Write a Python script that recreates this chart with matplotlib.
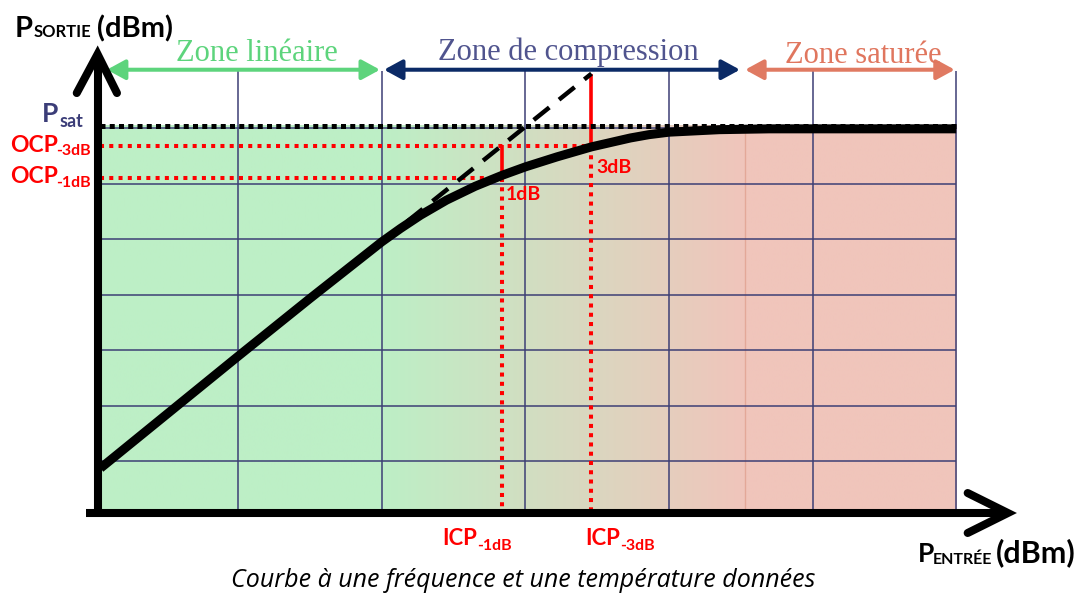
import numpy as np
import matplotlib as mpl
import matplotlib.pyplot as plt
from matplotlib.colors import LinearSegmentedColormap
from matplotlib.transforms import Affine2D

mpl.rcParams.update({
    "font.family": ["Lato", "DejaVu Sans"],
})

W, H = 1086, 594

# Transfer curve (grid units: 6 columns x 7 rows)
p_in = [0.04, 0.52, 1.0, 1.5, 2.0, 2.13, 2.27, 2.45, 2.65, 2.84, 3.0, 3.22,
        3.46, 3.73, 3.86, 4.0, 4.35, 4.7, 5.25, 6.0]
p_out = [0.87, 1.88, 2.89, 3.93, 4.95, 5.19, 5.43, 5.70, 5.95, 6.15, 6.30, 6.48,
         6.66, 6.82, 6.88, 6.925, 6.97, 6.985, 6.985, 6.985]

# ideal linear gain (dashed extension)
lin_in = [2.0, 3.46]
lin_out = [4.95, 7.98]

p_sat = 7.03
icp_1db, ocp_1db = 2.84, 6.10
icp_3db, ocp_3db = 3.46, 6.67

zones = ["Zone linéaire", "Zone de compression", "Zone saturée"]
zone_start = [0.085, 2.015, 4.53]
zone_end = [1.987, 4.494, 5.99]
zone_label_x = [1.13, 3.30, 5.35]
zone_label_y = [8.20, 8.23, 8.18]
zone_text_col = ["#5dd47c", "#50548e", "#e0765e"]
zone_arrow_col = ["#5dd47c", "#0b2a66", "#e07a62"]

GREEN = "#bdefc6"
PINK = "#f0c5bb"
GRID = "#3d3f75"
RED = "#ff0000"
FILL_TOP = 7.06

fig = plt.figure(figsize=(W / 100, H / 100), dpi=100)
ax = fig.add_axes([94.7 / W, 77.5 / H, 861.5 / W, 55.5 * FILL_TOP / H])
ax.axis("off")

# background gradient green -> pink
cmap = LinearSegmentedColormap.from_list(
    "zones", [(0, GREEN), (2.0 / 6, GREEN), (4.52 / 6, PINK), (1, PINK)])
ax.imshow(np.linspace(0, 1, 600)[None, :], extent=(0, 6, 0, FILL_TOP),
          aspect="auto", cmap=cmap, zorder=0, interpolation="bilinear")
ax.vlines(4.53, 0, FILL_TOP, color="#e3a898", lw=1, zorder=1)

# grid
ax.vlines(range(1, 7), 0, 8.03, color=GRID, lw=1.1, zorder=2, clip_on=False)
ax.hlines(range(1, 8), 0, 6, color=GRID, lw=1.1, zorder=2)

# Psat dotted line
ax.plot([0.04, 6.0], [p_sat, p_sat], color="black", lw=3.6,
        dashes=(1, 0.85), dash_capstyle="butt", zorder=5, clip_on=False)

# OCP / ICP red dotted guides
for icp, ocp in [(icp_1db, ocp_1db), (icp_3db, ocp_3db)]:
    ax.plot([0.04, icp], [ocp, ocp], color=RED, lw=2.9, dashes=(1, 1.3),
            zorder=4)
    ax.plot([icp, icp], [ocp, 0.06], color=RED, lw=2.9, dashes=(1, 1.3),
            zorder=4)
    top = np.interp(icp, lin_in, lin_out)
    ax.plot([icp, icp], [top, ocp], color=RED, lw=2.6, zorder=4,
            solid_capstyle="butt", clip_on=False)

# dashed linear extension
ax.plot(lin_in, lin_out, color="black", lw=3.2, dashes=(4.5, 2.8), zorder=6,
        clip_on=False)

# transfer curve
ax.plot(p_in, p_out, color="black", lw=6.5, solid_joinstyle="round",
        solid_capstyle="butt", zorder=7, clip_on=False)

ax.set_xlim(0, 6)
ax.set_ylim(0, FILL_TOP)

# axes arrows
AX_LW = 5.8
ax.plot([0.02, 0.02], [-0.01, 8.3], color="black", lw=AX_LW,
        solid_capstyle="butt", clip_on=False, zorder=8)
ax.plot([-0.125, 0.02, 0.155], [7.63, 8.33, 7.63], color="black", lw=AX_LW,
        solid_capstyle="round", solid_joinstyle="miter", clip_on=False, zorder=8)
ax.plot([-0.06, 6.34], [0.063, 0.063], color="black", lw=AX_LW,
        solid_capstyle="butt", clip_on=False, zorder=8)
ax.plot([6.08, 6.36, 6.08], [0.423, 0.063, -0.297], color="black", lw=AX_LW,
        solid_capstyle="round", solid_joinstyle="miter", clip_on=False, zorder=8)

# zone arrows and titles
for name, x0, x1, lx, ly, tc, ac in zip(zones, zone_start, zone_end,
                                        zone_label_x, zone_label_y,
                                        zone_text_col, zone_arrow_col):
    ax.annotate("", xy=(x1, 8.05), xytext=(x0, 8.05), annotation_clip=False,
                arrowprops=dict(arrowstyle="<|-|>,head_length=0.55,head_width=0.3",
                                lw=2.9, color=ac, mutation_scale=20,
                                shrinkA=0, shrinkB=0))
    ax.text(lx, ly, name, ha="center", va="baseline",
            family="Liberation Serif", fontsize=22, color=tc)

# labels in pixel coordinates (top-left origin)
px = Affine2D().scale(1 / W, -1 / H).translate(0, 1) + fig.transFigure


def label(x, y, s, size, color="black", **kw):
    fig.text(x, y, s, transform=px, fontsize=size, color=color,
             fontweight="bold", va="baseline", ha="left", **kw)


label(15, 37, "P", 21)
label(34, 37, "SORTIE", 12)
label(97, 37, "(dBm)", 21)

label(42, 122, "P", 19, "#3b3d78")
label(60, 127, "sat", 13, "#3b3d78")

label(10, 152, "OCP", 16.5, RED)
label(56, 155, "-3dB", 11.5, RED)
label(10, 183, "OCP", 16.5, RED)
label(56, 187, "-1dB", 11.5, RED)

label(506, 200, "1dB", 14, RED)
label(596, 173, "3dB", 14, RED)

label(442, 545, "ICP", 16, RED)
label(477, 550, "-1dB", 11.5, RED)
label(585, 545, "ICP", 16, RED)
label(620, 550, "-3dB", 11.5, RED)

label(918, 562, "P", 19)
label(933, 564, "ENTRÉE", 11.5)
label(996, 562, "(dBm)", 22)

fig.text(523, 587, "Courbe à une fréquence et une température données",
         transform=px, fontsize=18, style="italic", family="Open Sans",
         ha="center", va="baseline")

fig.savefig("out.png", dpi=100)
